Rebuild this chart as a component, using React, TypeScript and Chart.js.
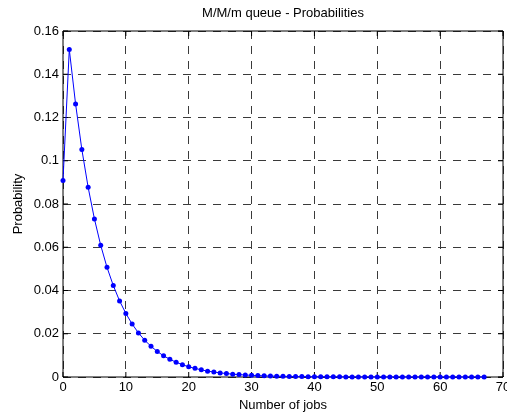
import React, { useEffect, useRef } from "react";
import { Chart, registerables } from "chart.js";

Chart.register(...registerables);

const TITLE = "M/M/m queue - Probabilities";
const X_LABEL = "Number of jobs";
const Y_LABEL = "Probability";

const jobs = [
  0, 1, 2, 3, 4, 5, 6, 7, 8, 9, 10, 11, 12, 13, 14, 15, 16, 17, 18, 19, 20,
  21, 22, 23, 24, 25, 26, 27, 28, 29, 30, 31, 32, 33, 34, 35, 36, 37, 38, 39,
  40, 41, 42, 43, 44, 45, 46, 47, 48, 49, 50, 51, 52, 53, 54, 55, 56, 57, 58,
  59, 60, 61, 62, 63, 64, 65, 66, 67,
];

const probabilities = [
  0.0909, 0.1515, 0.1263, 0.1052, 0.0877, 0.0731, 0.0609, 0.0507, 0.0423,
  0.0352, 0.0294, 0.0245, 0.0204, 0.017, 0.0142, 0.0118, 0.0098, 0.0082,
  0.0068, 0.0057, 0.0047, 0.004, 0.0033, 0.0027, 0.0023, 0.0019, 0.0016,
  0.0013, 0.0011, 0.00092, 0.00077, 0.00064, 0.00053, 0.00044, 0.00037,
  0.00031, 0.00026, 0.00021, 0.00018, 0.00015, 0.00012, 0.0001, 0.000086,
  0.000072, 0.00006, 0.00005, 0.000041, 0.000035, 0.000029, 0.000024,
  0.00002, 0.000017, 0.000014, 0.000012, 0.00001, 0.000008, 0.000007,
  0.000006, 0.000005, 0.000004, 0.000003, 0.000003, 0.000002, 0.000002,
  0.000002, 0.000001, 0.000001, 0.000001,
];

const xTicks = [0, 10, 20, 30, 40, 50, 60, 70];
const yTicks = [0, 0.02, 0.04, 0.06, 0.08, 0.1, 0.12, 0.14, 0.16];
const yTickLabels = ["0", "0.02", "0.04", "0.06", "0.08", "0.1", "0.12", "0.14", "0.16"];

const FONT = "'Liberation Sans', Arial, sans-serif";

const boxPlugin = {
  id: "matlabBox",
  beforeDatasetsDraw(chart: any) {
    const { ctx, chartArea } = chart;
    const { left, right, top, bottom } = chartArea;
    const xs = chart.scales.x;
    const ys = chart.scales.y;
    const tick = 5;
    ctx.save();
    ctx.strokeStyle = "#000";
    ctx.lineWidth = 1;
    ctx.setLineDash([]);
    ctx.beginPath();
    ctx.rect(left, top, right - left, bottom - top);
    ctx.stroke();
    ctx.beginPath();
    xs.ticks.forEach((t: any) => {
      const px = xs.getPixelForValue(t.value);
      ctx.moveTo(px, bottom);
      ctx.lineTo(px, bottom - tick);
      ctx.moveTo(px, top);
      ctx.lineTo(px, top + tick);
    });
    ys.ticks.forEach((t: any) => {
      const py = ys.getPixelForValue(t.value);
      ctx.moveTo(left, py);
      ctx.lineTo(left + tick, py);
      ctx.moveTo(right, py);
      ctx.lineTo(right - tick, py);
    });
    ctx.stroke();
    ctx.restore();
  },
};

export default function App() {
  const ref = useRef<HTMLCanvasElement | null>(null);

  useEffect(() => {
    if (!ref.current) return;
    Chart.defaults.font.family = FONT;
    Chart.defaults.color = "#000";
    const chart = new Chart(ref.current, {
      type: "line",
      data: {
        datasets: [
          {
            data: jobs.map((j, i) => ({ x: j, y: probabilities[i] })),
            borderColor: "#0000ff",
            backgroundColor: "#0000ff",
            borderWidth: 1,
            pointRadius: 2.5,
            pointBorderWidth: 0,
            pointBackgroundColor: "#0000ff",
            tension: 0,
            clip: false as any,
          },
        ],
      },
      options: {
        responsive: false,
        animation: false,
        events: [],
        layout: { padding: { left: 0, right: 3, top: 0, bottom: 0 } },
        plugins: {
          legend: { display: false },
          tooltip: { enabled: false },
          title: {
            display: true,
            text: TITLE,
            fullSize: false,
            color: "#000",
            font: { family: FONT, size: 13, weight: "normal" },
            padding: { top: 6, bottom: 9.4 },
          },
        },
        scales: {
          x: {
            type: "linear",
            min: 0,
            max: 70,
            afterBuildTicks: (s: any) => {
              s.ticks = xTicks.map((v) => ({ value: v }));
            },
            ticks: {
              padding: 3,
              maxRotation: 0,
              font: { family: FONT, size: 13 },
              color: "#000",
              callback: (v: any) => String(v),
            },
            grid: {
              color: "#3a3a3a",
              lineWidth: 1,
              drawTicks: false,
            },
            border: { display: false, dash: [8, 7] },
            title: {
              display: true,
              text: X_LABEL,
              font: { family: FONT, size: 13 },
              color: "#000",
              padding: { top: 0, bottom: 0 },
            },
            afterFit: (s: any) => {
              s.height = 36;
              s.paddingLeft = 0;
              s.paddingRight = 0;
            },
          },
          y: {
            type: "linear",
            min: 0,
            max: 0.16,
            afterBuildTicks: (s: any) => {
              s.ticks = yTicks.map((v) => ({ value: v }));
            },
            ticks: {
              padding: 4,
              font: { family: FONT, size: 13 },
              color: "#000",
              callback: (v: any) => {
                const i = yTicks.findIndex((t) => Math.abs(t - v) < 1e-9);
                return i >= 0 ? yTickLabels[i] : "";
              },
            },
            grid: {
              color: "#3a3a3a",
              lineWidth: 1,
              drawTicks: false,
            },
            border: { display: false, dash: [8, 7] },
            title: {
              display: true,
              text: Y_LABEL,
              font: { family: FONT, size: 13 },
              color: "#000",
              padding: { top: 11, bottom: 0 },
            },
            afterFit: (s: any) => {
              s.width = 63;
              s.paddingTop = 0;
              s.paddingBottom = 0;
            },
          },
        },
      },
      plugins: [boxPlugin],
    });
    return () => chart.destroy();
  }, []);

  return (
    <div style={{ position: "absolute", left: 0, top: 0, width: 507, height: 413 }}>
      <canvas ref={ref} width={507} height={413} style={{ display: "block" }} />
    </div>
  );
}
